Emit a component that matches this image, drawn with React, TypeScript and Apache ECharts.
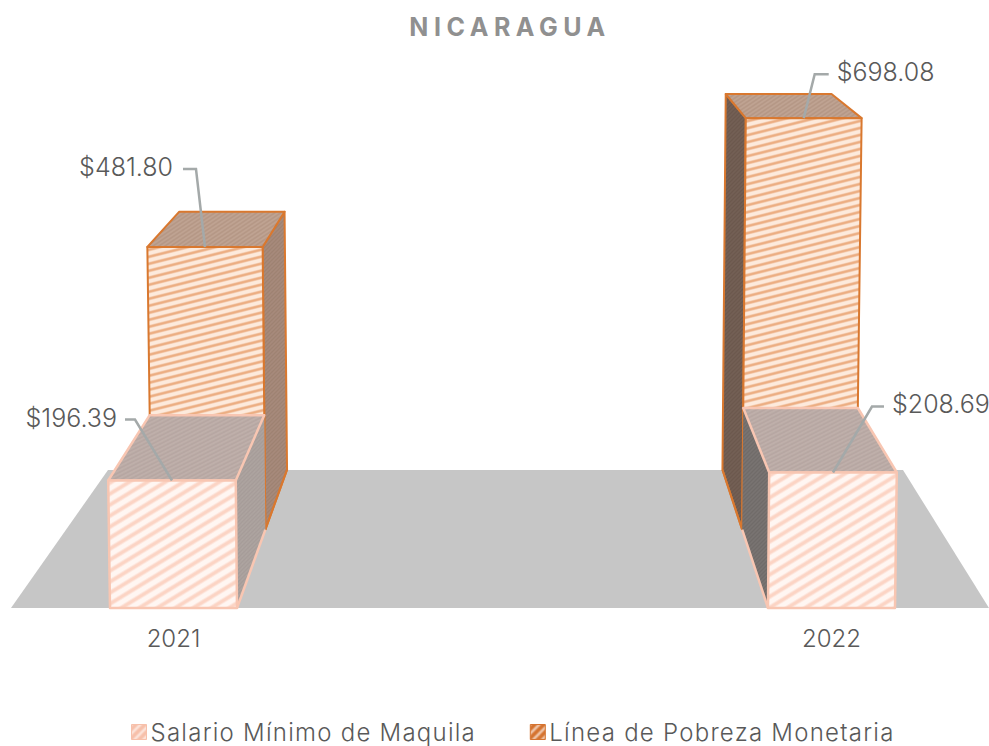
import React, { useEffect, useRef } from "react";
import * as echarts from "echarts";

const years = ["2021", "2022"];
const salarioMinimo = [196.39, 208.69];
const lineaPobreza = [481.8, 698.08];
const seriesNames = ["Salario Mínimo de Maquila", "Línea de Pobreza Monetaria"];
const chartTitle = "NICARAGUA";

const FONT = "Inter";
const VX = 515;
const VY = -160;
const BASE_Y = 608;
const HALF_W = 63.5;
const GROW = 3.5e-5;
const K_FRONT = 0.898;
const K_BACK = 0.82;

function tile(bg: string, fg: string, w: number, h: number, lw: number) {
  const c = document.createElement("canvas");
  c.width = w;
  c.height = h;
  const g = c.getContext("2d")!;
  g.fillStyle = bg;
  g.fillRect(0, 0, w, h);
  g.strokeStyle = fg;
  const passes: number[][] = [
    [1.7, 0.35],
    [1.15, 0.5],
    [0.7, 0.7],
  ];
  for (const [m, a] of passes) {
    g.globalAlpha = a;
    g.lineWidth = lw * m;
    for (let dy = -h; dy <= 2 * h; dy += h) {
      g.beginPath();
      g.moveTo(-w, dy + 2 * h);
      g.lineTo(2 * w, dy - h);
      g.stroke();
    }
  }
  return { image: c, repeat: "repeat", imageWidth: w, imageHeight: h } as any;
}

// world point (x, y on the front plane) -> projected point at depth k
function proj(x: number, y: number, k: number) {
  const h = BASE_Y - y;
  const s = 1 + GROW * h;
  const px = VX + (x - VX) * s;
  const py = BASE_Y - h * s;
  return [VX + (px - VX) * k, VY + (py - VY) * k];
}

type Look = {
  edge: string;
  edgeW: number;
  front: any;
  top: any;
  sides: any[];
  nearK: number;
  farK: number;
  sideEdgeFull: boolean;
  label: (v: number) => string;
  elbow: number[][];
  leaderEnd: number[];
  textShift: number[];
};

function barRenderer(look: Look) {
  return (_p: any, api: any) => {
    const i = api.value(0);
    const v = api.value(1);
    const base = api.coord([i, 0]);
    const top = api.coord([i, v]);
    const xl = base[0] - HALF_W;
    const xr = base[0] + HALF_W;
    const shape = (pts: number[][], fill: any, stroked = true) => ({
      type: "polygon",
      shape: { points: pts },
      style: {
        fill,
        stroke: stroked ? look.edge : "none",
        lineWidth: look.edgeW,
        lineJoin: "round",
      },
    });
    const sideX = i === 0 ? xr : xl;
    const side = shape(
      [
        proj(sideX, BASE_Y, look.nearK),
        proj(sideX, BASE_Y, look.farK),
        proj(sideX, top[1], look.farK),
        proj(sideX, top[1], look.nearK),
      ],
      look.sides[i],
      look.sideEdgeFull
    );
    const sideFoot = {
      type: "polyline",
      shape: { points: [proj(sideX, BASE_Y, look.nearK), proj(sideX, BASE_Y, look.farK)] },
      style: { fill: "none", stroke: look.edge, lineWidth: look.edgeW },
    };
    const topFace = shape(
      [
        proj(xl, top[1], look.nearK),
        proj(xr, top[1], look.nearK),
        proj(xr, top[1], look.farK),
        proj(xl, top[1], look.farK),
      ],
      look.top
    );
    const front = shape(
      [
        proj(xl, BASE_Y, look.nearK),
        proj(xr, BASE_Y, look.nearK),
        proj(xr, top[1], look.nearK),
        proj(xl, top[1], look.nearK),
      ],
      look.front
    );
    const anchor = proj(base[0], top[1], look.nearK);
    const elbow = [anchor[0] + look.elbow[i][0], anchor[1] + look.elbow[i][1]];
    const dir = look.leaderEnd[i];
    const end = [elbow[0] + dir, elbow[1]];
    const leader = {
      type: "polyline",
      shape: { points: [anchor, elbow, end] },
      style: { fill: "none", stroke: "#a4a9a9", lineWidth: 2.5 },
    };
    const text = {
      type: "text",
      x: end[0] + (dir < 0 ? -10 : 10) + look.textShift[i],
      y: end[1] - 2,
      style: {
        text: look.label(v),
        font: `300 25px ${FONT}`,
        fill: "#595959",
        align: dir < 0 ? "right" : "left",
        verticalAlign: "middle",
      },
    };
    return { type: "group", children: [side, sideFoot, topFace, front, leader, text] };
  };
}

function floorRenderer(_p: any, api: any) {
  const a = api.coord([0, 0]);
  const b = api.coord([1, 0]);
  return {
    type: "polygon",
    shape: {
      points: [
        [a[0] - 162.5, a[1]],
        [b[0] + 157.5, a[1]],
        [b[0] + 71.5, a[1] - 138],
        [a[0] - 65.5, a[1] - 138],
      ],
    },
    style: { fill: "#c6c6c6" },
  };
}

export default function App() {
  const ref = useRef<HTMLDivElement>(null);
  useEffect(() => {
    const chart = echarts.init(ref.current!, null, { renderer: "svg", width: 989, height: 746 });
    const fmt = (v: number) => `$${v.toFixed(2)}`;
    const frontLook: Look = {
      edge: "#f8c6b2",
      edgeW: 2.5,
      front: tile("#fff6f2", "#fbd0bf", 18, 11, 3),
      top: tile("#bfb0ab", "#b6a6a1", 8, 4, 1.2),
      sides: [tile("#aea5a1", "#a59c98", 4, 4, 1), tile("#7a7573", "#6f6a68", 4, 4, 1)],
      nearK: 1,
      farK: K_FRONT,
      sideEdgeFull: false,
      label: fmt,
      elbow: [
        [-37, -61],
        [39, -66],
      ],
      leaderEnd: [-10, 12],
      textShift: [2, -2],
    };
    const backLook: Look = {
      edge: "#d9782f",
      edgeW: 2,
      front: tile("#fdeadc", "#eaa678", 28, 7, 2.1),
      top: tile("#bfa392", "#b39684", 6, 4, 1),
      sides: [tile("#a88c7d", "#9d8071", 4, 4, 1), tile("#756257", "#6b574c", 4, 4, 1)],
      nearK: K_FRONT,
      farK: K_BACK,
      sideEdgeFull: true,
      label: fmt,
      elbow: [
        [-9, -78],
        [11, -44],
      ],
      leaderEnd: [-13, 14],
      textShift: [0, -2],
    };
    const option: any = {
      animation: false,
      title: {
        text: chartTitle,
        left: 505,
        top: 9,
        textAlign: "center",
        textStyle: { fontFamily: FONT, fontWeight: 700, fontSize: 25, color: "#909090" },
      },
      grid: { left: 173.5, right: 157.5, top: 91, bottom: 138 },
      xAxis: {
        type: "category",
        data: years,
        boundaryGap: false,
        axisLine: { show: false },
        axisTick: { show: false },
        axisLabel: {
          margin: 18,
          fontFamily: FONT,
          fontWeight: 300,
          fontSize: 24,
          color: "#595959",
          align: "center",
        },
      },
      yAxis: { type: "value", min: 0, max: 800, show: false },
      legend: {
        top: 715,
        left: 126,
        itemWidth: 15,
        itemHeight: 15,
        itemGap: 85,
        textStyle: { fontFamily: FONT, fontWeight: 300, fontSize: 24, color: "#595959", padding: [0, 0, 0, -1] },
        data: [
          { name: seriesNames[0], icon: "rect", itemStyle: { color: tile("#f7c0aa", "#fdeae2", 9, 9, 2), borderColor: "#f7c0aa", borderWidth: 1 } },
          { name: seriesNames[1], icon: "rect", itemStyle: { color: tile("#d5732f", "#f3d3bd", 9, 9, 2), borderColor: "#d5732f", borderWidth: 1 } },
        ],
      },
      series: [
        {
          type: "custom",
          name: "suelo",
          z: 1,
          silent: true,
          renderItem: floorRenderer,
          data: [[0, 0]],
          encode: { x: 0, y: 1 },
        },
        {
          type: "custom",
          name: seriesNames[1],
          z: 2,
          renderItem: barRenderer(backLook),
          itemStyle: { color: "#d9782f" },
          data: lineaPobreza.map((v, i) => [i, v]),
          encode: { x: 0, y: 1 },
        },
        {
          type: "custom",
          name: seriesNames[0],
          z: 3,
          renderItem: barRenderer(frontLook),
          itemStyle: { color: "#f7c4b0" },
          data: salarioMinimo.map((v, i) => [i, v]),
          encode: { x: 0, y: 1 },
        },
      ],
    };
    chart.setOption(option);
    ref.current!.querySelectorAll("text").forEach((t) => {
      if (t.textContent === chartTitle) {
        t.setAttribute("letter-spacing", "5.5");
      } else if (seriesNames.includes(t.textContent || "")) {
        t.setAttribute("letter-spacing", "1.25");
      }
    });
    return () => chart.dispose();
  }, []);
  return <div ref={ref} style={{ position: "absolute", left: 0, top: 0, width: 989, height: 746 }} />;
}
